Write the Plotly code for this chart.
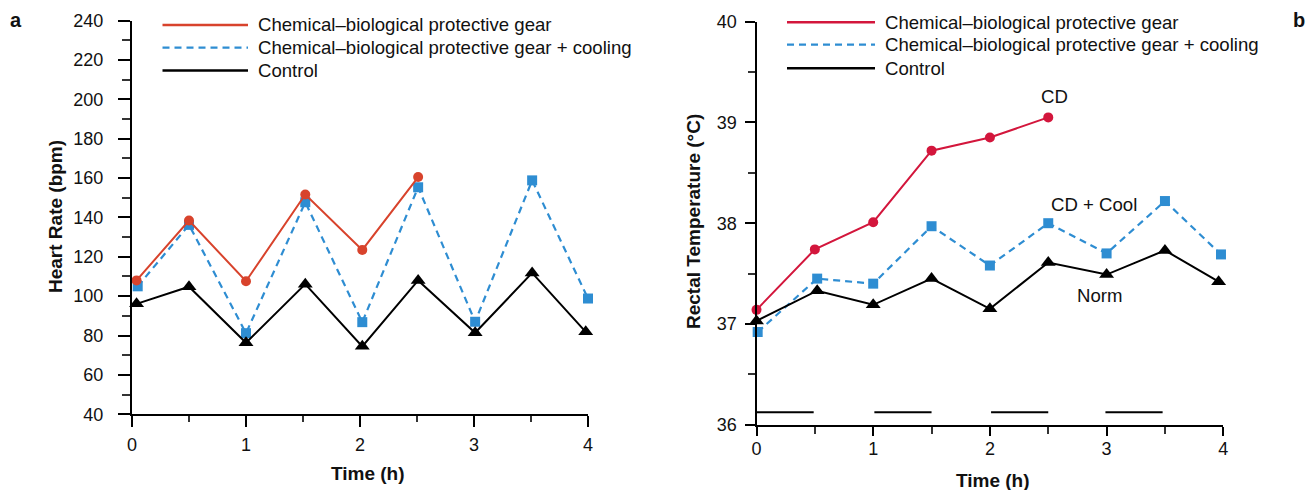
import plotly.graph_objects as go

W, H = 1315, 490
OFF = 8  # page body margin offset
FONT = "Liberation Sans, Arial, sans-serif"

# ---------------- Data: panel a (heart rate) ----------------
time_a_cb = [0.04, 0.5, 1.0, 1.52, 2.02, 2.51]
hr_cb = [108, 138.4, 107.6, 151.6, 123.5, 160.5]
time_a_cool = [0.05, 0.5, 1.0, 1.52, 2.02, 2.51, 3.01, 3.51, 4.0]
hr_cool = [105, 136.2, 81.2, 147.7, 86.8, 155.3, 87, 158.8, 98.8]
time_a_ctrl = [0.04, 0.5, 1.0, 1.52, 2.02, 2.51, 3.01, 3.51, 3.98]
hr_ctrl = [96.1, 104.8, 76.3, 106.1, 74.5, 108, 81.4, 111.8, 81.9]

# ---------------- Data: panel b (rectal temperature) ----------------
time_b_cb = [0, 0.5, 1.0, 1.5, 2.0, 2.5]
rt_cb = [37.14, 37.74, 38.01, 38.72, 38.85, 39.05]
time_b_cool = [0.01, 0.52, 1.0, 1.5, 2.0, 2.5, 3.0, 3.5, 3.98]
rt_cool = [36.92, 37.45, 37.40, 37.97, 37.58, 38.00, 37.70, 38.22, 37.69]
time_b_ctrl = [0, 0.52, 1.0, 1.5, 2.0, 2.5, 3.0, 3.5, 3.96]
rt_ctrl = [37.03, 37.33, 37.19, 37.45, 37.15, 37.61, 37.49, 37.73, 37.42]

# exercise periods (horizontal bars in panel b)
exercise_start = [0.0, 1.01, 2.01, 2.99]
exercise_end = [0.49, 1.5, 2.5, 3.48]
exercise_level = 36.123

legend_labels = ["Chemical\u2013biological protective gear",
                 "Chemical\u2013biological protective gear + cooling",
                 "Control"]

RED_A = "#d8432c"
RED_B = "#d3163c"
BLUE = "#2e8dd2"
BLACK = "#000000"

fig = go.Figure()


def px_x(x):
    return (x - OFF) / W


def px_y(y):
    return 1 - (y - OFF) / H


# panel a traces
fig.add_trace(go.Scatter(x=time_a_cool, y=hr_cool, mode="lines+markers",
                         line=dict(color=BLUE, width=2.2, dash="7px,5px"),
                         marker=dict(symbol="square", size=10, color=BLUE),
                         xaxis="x", yaxis="y", cliponaxis=False, showlegend=False))
fig.add_trace(go.Scatter(x=time_a_ctrl, y=hr_ctrl, mode="lines+markers",
                         line=dict(color=BLACK, width=2),
                         marker=dict(symbol="triangle-up", size=13, color=BLACK),
                         xaxis="x", yaxis="y", cliponaxis=False, showlegend=False))
fig.add_trace(go.Scatter(x=time_a_cb, y=hr_cb, mode="lines+markers",
                         line=dict(color=RED_A, width=2),
                         marker=dict(symbol="circle", size=10, color=RED_A),
                         xaxis="x", yaxis="y", cliponaxis=False, showlegend=False))

# panel b traces
for xs, xe in zip(exercise_start, exercise_end):
    fig.add_trace(go.Scatter(x=[xs, xe], y=[exercise_level, exercise_level], mode="lines",
                             line=dict(color=BLACK, width=2),
                             xaxis="x2", yaxis="y2", showlegend=False, hoverinfo="skip"))
fig.add_trace(go.Scatter(x=time_b_cool, y=rt_cool, mode="lines+markers",
                         line=dict(color=BLUE, width=2.2, dash="7px,5px"),
                         marker=dict(symbol="square", size=10, color=BLUE),
                         xaxis="x2", yaxis="y2", cliponaxis=False, showlegend=False))
fig.add_trace(go.Scatter(x=time_b_ctrl, y=rt_ctrl, mode="lines+markers",
                         line=dict(color=BLACK, width=2),
                         marker=dict(symbol="triangle-up", size=13, color=BLACK),
                         xaxis="x2", yaxis="y2", cliponaxis=False, showlegend=False))
fig.add_trace(go.Scatter(x=time_b_cb, y=rt_cb, mode="lines+markers",
                         line=dict(color=RED_B, width=2),
                         marker=dict(symbol="circle", size=10, color=RED_B),
                         xaxis="x2", yaxis="y2", cliponaxis=False, showlegend=False))

tickfont = dict(family=FONT, size=18, color="#111111")


def xaxis_cfg(domain, ticklen, minorlen, standoff, anchor):
    return dict(domain=domain, range=[0, 4], tickvals=[0, 1, 2, 3, 4], anchor=anchor,
                showline=True, linecolor="black", linewidth=2,
                ticks="outside", ticklen=ticklen, tickwidth=2, tickcolor="black",
                minor=dict(tickvals=[0.5, 1.5, 2.5, 3.5], ticks="outside", ticklen=minorlen,
                           tickwidth=1.5, tickcolor="#333333"),
                showgrid=False, zeroline=False, tickfont=tickfont,
                ticklabelstandoff=standoff, automargin=False, fixedrange=True)


def yaxis_cfg(domain, rng, dtick, minor_dtick, anchor, ticklen, minorlen, standoff):
    return dict(domain=domain, range=rng, dtick=dtick, tick0=rng[0], anchor=anchor,
                showline=True, linecolor="black", linewidth=2,
                ticks="outside", ticklen=ticklen, tickwidth=2, tickcolor="black",
                minor=dict(dtick=minor_dtick, ticks="outside", ticklen=minorlen,
                           tickwidth=1.5, tickcolor="#333333"),
                showgrid=False, zeroline=False, tickfont=tickfont,
                ticklabelstandoff=standoff, automargin=False, fixedrange=True)


ann = []
shapes = []


# legends (manual, long line samples)
def add_legend(x0, x1, xt, ys, colors):
    dashes = ["solid", "7px,5px", "solid"]
    for lab, y, c, d in zip(legend_labels, ys, colors, dashes):
        shapes.append(dict(type="line", xref="paper", yref="paper",
                           x0=px_x(x0), x1=px_x(x1), y0=px_y(y), y1=px_y(y),
                           line=dict(color=c, width=2.5 if d == "solid" else 2.2, dash=d)))
        ann.append(dict(text=lab, xref="paper", yref="paper", x=px_x(xt), y=px_y(y),
                        xanchor="left", yanchor="middle", showarrow=False,
                        font=dict(family=FONT, size=18.6, color="#111111")))


add_legend(162.5, 248, 256, [25, 47.7, 70.5], [RED_A, BLUE, BLACK])
add_legend(787, 875, 883, [22.3, 44.7, 68.3], [RED_B, BLUE, BLACK])

# axis titles
titlefont = dict(family=FONT, size=19, color="#111111")
ann.append(dict(text="<b>Heart Rate (bpm)</b>", xref="paper", yref="paper",
                x=px_x(55), y=px_y(217), textangle=-90, showarrow=False,
                xanchor="center", yanchor="middle", font=titlefont))
ann.append(dict(text="<b>Time (h)</b>", xref="paper", yref="paper",
                x=px_x(368), y=px_y(473), showarrow=False,
                xanchor="center", yanchor="middle", font=titlefont))
ann.append(dict(text="<b>Rectal Temperature (\u00b0C)</b>", xref="paper", yref="paper",
                x=px_x(693), y=px_y(222), textangle=-90, showarrow=False,
                xanchor="center", yanchor="middle", font=titlefont))
ann.append(dict(text="<b>Time (h)</b>", xref="paper", yref="paper",
                x=px_x(993), y=px_y(480), showarrow=False,
                xanchor="center", yanchor="middle", font=titlefont))

# panel letters
ann.append(dict(text="<b>a</b>", xref="paper", yref="paper", x=px_x(9), y=1,
                showarrow=False, xanchor="left", yanchor="top", borderpad=0,
                font=dict(family=FONT, size=20, color="#111111")))
ann.append(dict(text="<b>b</b>", xref="paper", yref="paper", x=px_x(1298.5), y=1,
                showarrow=False, xanchor="center", yanchor="top", borderpad=0,
                font=dict(family=FONT, size=20, color="#111111")))

# in-plot labels (panel b)
lblfont = dict(family=FONT, size=18.6, color="#111111")
ann.append(dict(text="CD", xref="x2", yref="y2", x=2.55, y=39.26, showarrow=False,
                xanchor="center", yanchor="middle", font=lblfont))
ann.append(dict(text="CD + Cool", xref="x2", yref="y2", x=2.89, y=38.19, showarrow=False,
                xanchor="center", yanchor="middle", font=lblfont))
ann.append(dict(text="Norm", xref="x2", yref="y2", x=2.94, y=37.28, showarrow=False,
                xanchor="center", yanchor="middle", font=lblfont))

fig.update_layout(
    width=W, height=H,
    margin=dict(l=0, r=0, t=0, b=0),
    paper_bgcolor="white", plot_bgcolor="white",
    showlegend=False,
    xaxis=xaxis_cfg([px_x(132), px_x(588)], 11, 6, 2, "y"),
    yaxis=yaxis_cfg([px_y(414.3), px_y(20.5)], [40, 240], 20, 10, "x", 12, 8, 11),
    xaxis2=xaxis_cfg([px_x(756.5), px_x(1223.3)], 9, 7, -2, "y2"),
    yaxis2=yaxis_cfg([px_y(424.7), px_y(21.7)], [36, 40], 1, 0.5, "x2", 10, 7, 4),
    annotations=ann,
    shapes=shapes,
    font=dict(family=FONT),
)

fig.write_html("out.html")
